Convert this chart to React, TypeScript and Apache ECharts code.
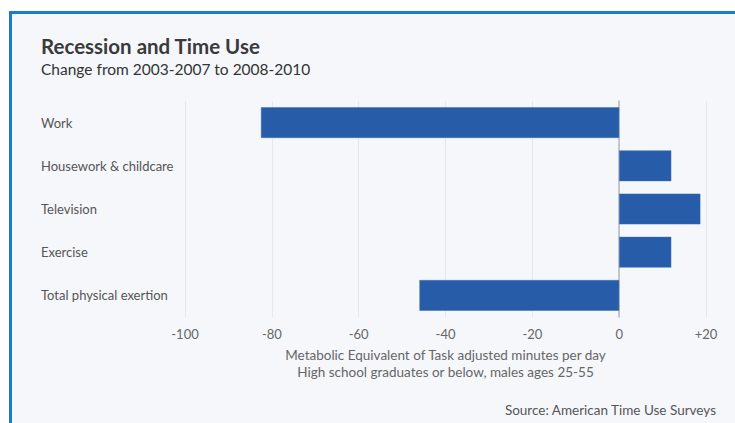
import React, { useEffect, useRef } from "react";
import * as echarts from "echarts";

const categories = ["Work", "Housework & childcare", "Television", "Exercise", "Total physical exertion"];
const values = [-82.5, 12, 18.7, 12, -46];
const tickMin = -100;
const tickMax = 20;
const tickStep = 20;
const titleText = "Recession and Time Use";
const subtitleText = "Change from 2003-2007 to 2008-2010";
const axisNameLines = ["Metabolic Equivalent of Task adjusted minutes per day", "High school graduates or below, males ages 25-55"];
const sourceText = "Source: American Time Use Surveys";

const FONT = "Lato, 'Noto Sans', sans-serif";

export default function App() {
  const ref = useRef<HTMLDivElement>(null);
  useEffect(() => {
    document.body.style.margin = "0";
    const chart = echarts.init(ref.current!, null, { renderer: "svg" });
    chart.setOption({
      animation: false,
      backgroundColor: "#ffffff",
      textStyle: { fontFamily: FONT },
      graphic: [
        { type: "rect", shape: { x: 10, y: 12, width: 740, height: 420 }, style: { fill: "#f5f7fb" }, z: -10 },
        { type: "rect", shape: { x: 10, y: 11, width: 740, height: 3 }, style: { fill: "#1b7bd0" }, z: -5 },
        { type: "rect", shape: { x: 9, y: 11, width: 3, height: 420 }, style: { fill: "#1b7bd0" }, z: -5 },
        { type: "text", x: 41, y: 46, style: { text: titleText, fill: "#3a3a3a", font: `bold 20.5px ${FONT}`, textVerticalAlign: "middle" } },
        { type: "text", x: 41, y: 69, style: { text: subtitleText, fill: "#333", font: `15.5px ${FONT}`, textVerticalAlign: "middle" } },
        { type: "text", x: 716, y: 410, style: { text: sourceText, fill: "#555", font: `13.5px ${FONT}`, textAlign: "right", textVerticalAlign: "middle" } },
      ],
      grid: { left: 185, right: 29, top: 101, bottom: 106 },
      xAxis: {
        type: "value",
        min: tickMin,
        max: tickMax,
        interval: tickStep,
        axisLine: { show: false },
        axisTick: { show: false },
        splitLine: { show: true, lineStyle: { color: "#e4e7ee", width: 1 } },
        axisLabel: {
          color: "#666",
          fontSize: 13,
          margin: 10,
          fontFamily: FONT,
          formatter: (v: number) => (v > 0 ? "+" + v : String(v)),
        },
        name: axisNameLines.join("\n"),
        nameLocation: "middle",
        nameGap: 29,
        nameTextStyle: { color: "#666", fontSize: 13.5, lineHeight: 17, fontFamily: FONT, verticalAlign: "top" },
      },
      yAxis: {
        type: "category",
        data: categories,
        inverse: true,
        axisTick: { show: false },
        axisLine: { show: true, onZero: true, lineStyle: { color: "#b5b8bd", width: 1.5 } },
        axisLabel: { color: "#555", fontSize: 13, align: "left", margin: 144, fontFamily: FONT },
      },
      series: [
        {
          type: "bar",
          data: values,
          barWidth: "71%",
          itemStyle: { color: "#265ca8", borderColor: "#3a6fb8", borderWidth: 0.5 },
        },
      ],
    });
    return () => chart.dispose();
  }, []);
  return <div ref={ref} style={{ position: "fixed", left: 0, top: 0, width: 735, height: 423 }} />;
}
